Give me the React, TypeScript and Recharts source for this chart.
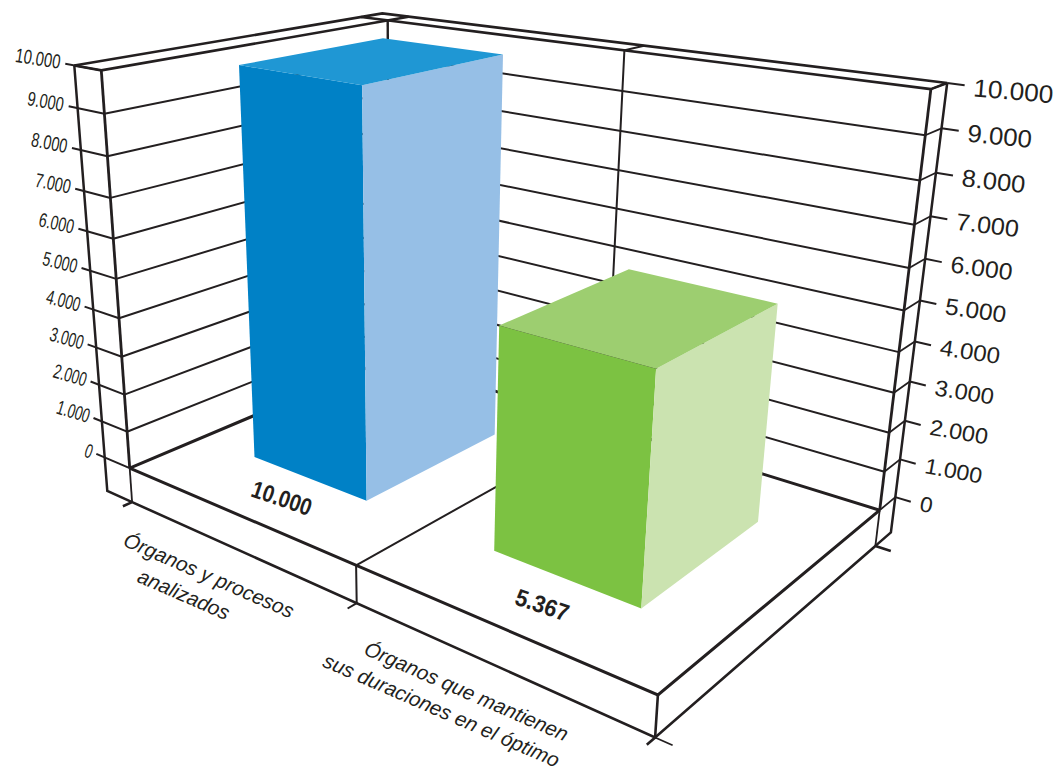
import { BarChart, Bar, XAxis, YAxis, LabelList } from 'recharts';

const WIDTH = 1056;
const HEIGHT = 775;
// axes need one pixel each or they are not drawn
const PLOT_W = WIDTH - 1;
const PLOT_H = HEIGHT - 1;

const categories = ['Órganos y procesos|analizados', 'Órganos que mantienen|sus duraciones en el óptimo'];
const values = [10000, 5367];
const yTicks = [0, 1000, 2000, 3000, 4000, 5000, 6000, 7000, 8000, 9000, 10000];
const frontColors = ['#0081C6', '#7CC242'];
const sideColors = ['#96BFE6', '#CBE3B0'];
const topColors = ['#1F97D4', '#9DCE70'];

const data = categories.map((name, i) => ({ name, value: values[i] }));

const INK = '#231F20';
const DEPTH_FRONT = 0.25; // bars sit between these two depths of the floor
const DEPTH_BACK = 0.76;
const SLAB = 0.095; // floor thickness, below zero
const WALL_L = 0.064;
const WALL_R = 0.09;

// camera fit: [u, v, h] on the box -> pixel on the page
const calib: number[][] = [
  [0, 0, 0, 131, 467],
  [1, 0, 0, 657, 696],
  [0, 1, 0, 388, 360],
  [1, 1, 0, 881, 509],
  [0, 0, 1, 100, 71],
  [0, 1, 1, 389, 20],
  [1, 1, 1, 930, 90],
  [0.5, 0, 0, 357, 566],
  [0.5, 1, 0, 605, 425],
  [0.5, 1, 1, 625, 50],
  [0, 0, 0.5, 116, 278],
  [1, 1, 0.5, 904, 310],
];

function solveCamera(rows: number[][]) {
  const n = 11;
  const m = Array.from({ length: n }, () => new Array(n + 1).fill(0));
  const add = (r: number[], t: number) => {
    for (let i = 0; i < n; i++) {
      for (let j = 0; j < n; j++) m[i][j] += r[i] * r[j];
      m[i][n] += r[i] * t;
    }
  };
  rows.forEach(([u, v, h, x, y]) => {
    add([u, v, h, 1, 0, 0, 0, 0, -x * u, -x * v, -x * h], x);
    add([0, 0, 0, 0, u, v, h, 1, -y * u, -y * v, -y * h], y);
  });
  for (let i = 0; i < n; i++) {
    let p = i;
    for (let k = i + 1; k < n; k++) if (Math.abs(m[k][i]) > Math.abs(m[p][i])) p = k;
    [m[i], m[p]] = [m[p], m[i]];
    for (let k = 0; k < n; k++) {
      if (k === i) continue;
      const f = m[k][i] / m[i][i];
      for (let j = i; j <= n; j++) m[k][j] -= f * m[i][j];
    }
  }
  return m.map((row, i) => row[n] / row[i]);
}

const cam = solveCamera(calib);

function project(u: number, v: number, h: number) {
  const w = cam[8] * u + cam[9] * v + cam[10] * h + 1;
  return {
    x: (cam[0] * u + cam[1] * v + cam[2] * h + cam[3]) / w,
    y: (cam[4] * u + cam[5] * v + cam[6] * h + cam[7]) / w,
  };
}

const plotU = (x: number) => (x - 1) / PLOT_W;
const plotH = (y: number) => 1 - y / PLOT_H;

const toPoints = (pts: number[][]) =>
  pts.map(([u, v, h]) => {
    const p = project(u, v, h);
    return `${p.x.toFixed(1)},${p.y.toFixed(1)}`;
  }).join(' ');

const formatValue = (v: number) => String(v).replace(/\B(?=(\d{3})+$)/g, '.');

function Edge({ pts, w = 2 }: { pts: number[][]; w?: number }) {
  return <polyline points={toPoints(pts)} fill="none" stroke={INK} strokeWidth={w} strokeLinejoin="miter" />;
}

// walls, floor slab and grid, behind the bars
function Frame() {
  const el = WALL_L;
  const er = WALL_R;
  const d = SLAB;
  return (
    <g>
      {yTicks.map((t) => {
        const h = t / yTicks[yTicks.length - 1];
        if (h === 1) return null;
        return <Edge key={t} pts={[[0, 0, h], [0, 1, h], [1, 1, h]]} w={h === 0 ? 3 : 2} />;
      })}
      <Edge pts={[[0, 1, 0], [0, 1, 1]]} w={2.4} />
      <Edge pts={[[0.5, 1, 0], [0.5, 1, 1], [0.5, 1 + er, 1]]} w={2} />
      <Edge pts={[[0.5, 0, 0], [0.5, 1, 0]]} w={2} />
      <Edge pts={[[-el, 0, 1], [-el, 1 + er, 1], [1, 1 + er, 1], [1, 1, 1]]} w={2.6} />
      <Edge pts={[[-el, 0, 1], [0, 0, 1], [0, 1 + er, 1]]} w={2.6} />
      <Edge pts={[[-el, 1, 1], [1, 1, 1]]} w={2.6} />
      <Edge pts={[[-el, 0, 1], [-el, 0, -d], [0, 0, -d]]} w={2.5} />
      <Edge pts={[[0, 0, 1], [0, 0, 0]]} w={2.8} />
      <Edge pts={[[0, 0, 0], [0, 0, -d]]} w={1.8} />
      <Edge pts={[[1, 1 + er, 1], [1, 1 + er, -d], [1, 1, -d]]} w={2.5} />
      <Edge pts={[[1, 1, 1], [1, 1, 0]]} w={2.8} />
      <Edge pts={[[1, 1, 0], [1, 1, -d]]} w={1.8} />
      <Edge pts={[[0, 0, 0], [1, 0, 0], [1, 1, 0]]} w={3} />
      <Edge pts={[[0, -0.03, -d], [0, 0, -d], [1, 0, -d], [1, 1, -d], [1.025, 1, -d]]} w={2.6} />
      <Edge pts={[[0.5, 0, 0], [0.5, 0, -d], [0.5, -0.03, -d]]} w={2} />
      <Edge pts={[[1, 0, 0], [1, 0, -d], [1, -0.03, -d]]} w={2.6} />
      <Edge pts={[[1, 0, -d], [1.025, 0, -d]]} w={1.8} />
    </g>
  );
}

function Box3D(props: any) {
  const { x, y, width, index } = props;
  const u0 = plotU(x);
  const u1 = plotU(x + width);
  const h = plotH(y);
  const a = DEPTH_FRONT;
  const b = DEPTH_BACK;
  return (
    <g>
      <polygon points={toPoints([[u0, a, 0], [u1, a, 0], [u1, a, h], [u0, a, h]])} fill={frontColors[index]} />
      <polygon points={toPoints([[u1, a, 0], [u1, b, 0], [u1, b, h], [u1, a, h]])} fill={sideColors[index]} />
      <polygon points={toPoints([[u0, a, h], [u1, a, h], [u1, b, h], [u0, b, h]])} fill={topColors[index]} />
    </g>
  );
}

function BarValue(props: any) {
  const { x, width, value } = props;
  const u = plotU(x + width / 2);
  const p = project(u, DEPTH_FRONT, 0);
  const label = formatValue(value);
  return (
    <text
      transform={`translate(${p.x - 29 + 8 * u} ${p.y + 17 + 13 * u}) rotate(19)`}
      y={8}
      textAnchor="middle"
      fontFamily="'Liberation Sans', sans-serif"
      fontWeight={700}
      fontSize={24}
      textLength={label.length === 6 ? 62 : 55}
      lengthAdjust="spacingAndGlyphs"
      fill={INK}
    >
      {label}
    </text>
  );
}

const charWidth = (label: string) => (label.length === 6 ? 3.06 : label.length === 5 ? 2.5 : 0.556);

// one tick draws both sides of the box, left and right wall share the value scale
function WallTick(props: any) {
  const { y, payload } = props;
  const h = plotH(y);
  const label = formatValue(payload.value);
  const leftInner = project(0, 0, h);
  const leftEnd = project(-WALL_L - 0.022, 0, h);
  const rightInner = project(1, 1, h);
  const rightOuter = project(1, 1 + WALL_R, h);
  const rightEnd = project(1.025, 1 + WALL_R, h);
  return (
    <g>
      <line x1={leftInner.x} y1={leftInner.y} x2={leftEnd.x} y2={leftEnd.y} stroke={INK} strokeWidth={2} />
      <text
        transform={`translate(${leftEnd.x - 6} ${leftEnd.y + 5}) rotate(${18 - 9 * h})`}
        textAnchor="end"
        fontFamily="'Liberation Sans', sans-serif"
        fontSize={20}
        textLength={charWidth(label) * (13.3 + 1.5 * h)}
        lengthAdjust="spacingAndGlyphs"
        fill={INK}
      >
        {label}
      </text>
      <line x1={rightInner.x} y1={rightInner.y} x2={rightOuter.x} y2={rightOuter.y} stroke={INK} strokeWidth={1.8} />
      <line x1={rightOuter.x} y1={rightOuter.y} x2={rightEnd.x} y2={rightEnd.y} stroke={INK} strokeWidth={2} />
      <text
        transform={`translate(${rightEnd.x + 8} ${rightEnd.y + 9 + 2 * h}) rotate(${11 - 6 * h})`}
        fontFamily="'Liberation Sans', sans-serif"
        fontSize={21.5 + 3.5 * h}
        textLength={charWidth(label) * (22.8 + 3.4 * h)}
        lengthAdjust="spacingAndGlyphs"
        fill={INK}
      >
        {label}
      </text>
    </g>
  );
}

function CategoryTick(props: any) {
  const { x, payload } = props;
  const p = project(plotU(x), 0, -SLAB);
  const lines = String(payload.value).split('|');
  return (
    <g>
      {lines.map((line, i) => (
        <text
          key={line}
          transform={`translate(${p.x - 29 - 25 * i} ${p.y + 28 + 19 * i}) rotate(23.5)`}
          y={5}
          textAnchor="middle"
          fontFamily="'Liberation Sans', sans-serif"
          fontStyle="italic"
          fontSize={20.5}
          fill={INK}
        >
          {line}
        </text>
      ))}
    </g>
  );
}

export default function App() {
  return (
    <div style={{ position: 'absolute', left: 0, top: 0, width: WIDTH, height: HEIGHT, background: '#fff' }}>
      <BarChart
        width={WIDTH}
        height={HEIGHT}
        data={data}
        margin={{ top: 0, right: 0, bottom: 0, left: 0 }}
        barCategoryGap="25%"
      >
        <Frame />
        <XAxis dataKey="name" height={1} axisLine={false} tickLine={false} interval={0} tick={<CategoryTick />} />
        <YAxis width={1} domain={[0, 10000]} ticks={yTicks} interval={0} axisLine={false} tickLine={false} tick={<WallTick />} />
        <Bar dataKey="value" shape={<Box3D />} isAnimationActive={false}>
          <LabelList dataKey="value" content={<BarValue />} />
        </Bar>
      </BarChart>
    </div>
  );
}
